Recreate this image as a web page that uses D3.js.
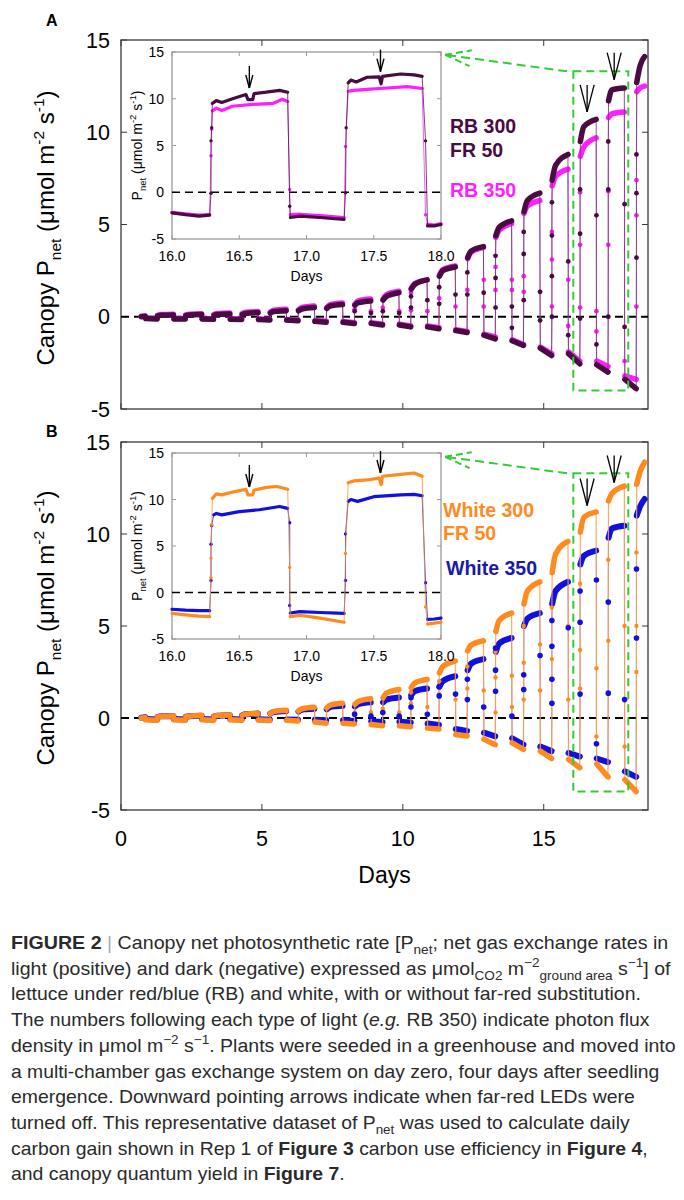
<!DOCTYPE html>
<html><head><meta charset="utf-8">
<script src="https://cdn.jsdelivr.net/npm/d3@7"></script>
<style>body{margin:0;background:#fff}svg{display:block}</style>
</head><body>
<svg id="c" width="684" height="1200"></svg>
<script>
// ---------------- DATA ----------------
const dayIdx = [0,1,2,3,4,5,6,7,8,9,10,11,12,13,14,15,16,17,18];
const lightOn = 0.29, lightOff = 0.87, firstSample = 0.72, lastSample = 18.58;
const yTicks = [-5, 0, 5, 10, 15];
const xTicks = [0, 5, 10, 15];
const insetXTicks = [16.0, 16.5, 17.0, 17.5, 18.0];

// Panel A: RB 300 + FR 50
const rb300LightStart = [0.0,0.05,0.06,0.08,0.12,0.2,0.32,0.45,0.62,0.9,1.5,2.2,3.2,4.4,5.7,7.4,9.5,11.7,12.7];
const rb300LightKnee  = [0.01,0.08,0.1,0.12,0.18,0.28,0.42,0.58,0.76,1.1,1.75,2.5,3.55,4.85,6.3,8.2,10.3,12.3,13.6];
const rb300LightEnd   = [0.02,0.1,0.12,0.15,0.22,0.33,0.5,0.66,0.86,1.3,2.0,2.7,3.8,5.2,6.7,8.8,10.7,12.4,14.1];
const rb300DarkStart  = [-0.1,-0.12,-0.12,-0.14,-0.15,-0.18,-0.25,-0.3,-0.36,-0.45,-0.55,-0.75,-1.0,-1.3,-1.7,-2.0,-2.6,-3.4];
const rb300DarkEnd    = [-0.12,-0.12,-0.14,-0.15,-0.17,-0.22,-0.3,-0.37,-0.45,-0.55,-0.65,-0.85,-1.2,-1.55,-2.1,-2.55,-3.0,-3.9];
const rb300Rise = [[],[],[],[],[],[],[],[],[0.3],[0.3],[0.5,1.1],[0.7,1.6],[1.2,2.4],[0.5,2.1,3.3],[0.9,3.4,4.6],[0.0,2.2,4.4,6.2],[-0.1,4.5,6.9],[0.0,6.9,9.5],[3.2,6.7,8.8]];
const rb300Fall = [[],[],[],[],[],[],[],[],[0.2],[0.2],[0.9],[1.2],[1.3],[0.55,-0.6],[1.35,-0.2],[3.0,-1.0],[5.5,-1.5],[6.1,-0.55]];

// Panel A: RB 350
const rb350LightStart = [0.03,0.08,0.1,0.12,0.18,0.25,0.38,0.5,0.68,0.95,1.55,2.25,3.15,4.3,5.6,7.1,8.7,10.8,12.2];
const rb350LightKnee  = [0.04,0.12,0.14,0.17,0.24,0.35,0.5,0.66,0.86,1.2,1.8,2.55,3.5,4.7,6.0,7.6,9.2,11.0,12.4];
const rb350LightEnd   = [0.05,0.14,0.16,0.2,0.28,0.4,0.58,0.75,0.96,1.38,2.0,2.75,3.75,5.05,6.3,8.0,9.7,11.1,12.5];
const rb350DarkStart  = [-0.08,-0.1,-0.1,-0.12,-0.12,-0.15,-0.2,-0.26,-0.32,-0.4,-0.5,-0.7,-0.95,-1.25,-1.65,-1.9,-2.4,-3.2];
const rb350DarkEnd    = [-0.1,-0.1,-0.12,-0.12,-0.15,-0.18,-0.25,-0.32,-0.4,-0.5,-0.6,-0.8,-1.1,-1.5,-2.0,-2.4,-2.7,-3.4];
const rb350Rise = [[],[],[],[],[],[],[],[],[0.4],[0.5],[0.35,1.3],[1.0],[1.45],[1.45,2.7],[1.35,2.2],[0.55,3.1,4.6],[0.5,3.9,6.75],[3.9,6.8],[0.55,5.5,7.4]];
const rb350Fall = [[],[],[],[],[],[],[],[],[0.3],[0.3],[0.3],[0.55],[2.0,0.55],[2.0,1.45],[1.35],[2.0,-0.5],[0.3,-0.8],[-2.4]];

// Panel B: White 300 + FR 50
const w300LightStart = [0.0,0.06,0.07,0.09,0.15,0.25,0.38,0.55,0.75,1.1,1.65,2.45,3.65,4.7,6.2,7.9,10.1,11.8,12.7];
const w300LightKnee  = [0.01,0.09,0.1,0.13,0.2,0.35,0.5,0.7,0.9,1.35,1.9,2.8,3.95,5.3,6.9,8.9,10.9,12.2,13.4];
const w300LightEnd   = [0.02,0.11,0.13,0.16,0.25,0.42,0.58,0.8,1.05,1.55,2.1,3.1,4.2,5.7,7.4,9.6,11.2,12.6,13.9];
const w300DarkStart  = [-0.1,-0.1,-0.1,-0.1,-0.11,-0.12,-0.22,-0.28,-0.35,-0.42,-0.55,-0.9,-1.15,-1.35,-1.8,-2.25,-2.5,-3.35];
const w300DarkEnd    = [-0.12,-0.12,-0.12,-0.12,-0.13,-0.16,-0.28,-0.32,-0.42,-0.48,-0.6,-0.98,-1.45,-1.7,-2.2,-2.7,-3.2,-4.0];
const w300Rise = [[],[],[],[],[],[],[],[],[0.3],[0.5],[0.8,1.4],[1.3,2.0],[1.6,2.8],[0.3,2.2,3.6],[1.0,3.0,5.0],[0.8,3.2,6.0],[1.6,3.7,7.3],[4.2,8.6],[2.5,5.0,9.0]];
const w300Fall = [[],[],[],[],[],[],[],[],[0.3],[0.3],[0.6],[1.0],[1.5],[2.3,0.6],[4.0,1.5],[5.0,1.0],[2.7,-1.0],[5.0,-1.55]];

// Panel B: White 350
const w350LightStart = [0.02,0.06,0.07,0.09,0.15,0.24,0.35,0.48,0.62,0.85,1.25,1.7,2.6,3.6,5.0,6.2,8.35,9.8,11.0];
const w350LightKnee  = [0.03,0.09,0.1,0.12,0.2,0.32,0.45,0.6,0.75,1.0,1.45,2.0,2.95,4.05,5.4,6.9,8.8,10.3,11.5];
const w350LightEnd   = [0.04,0.1,0.12,0.15,0.24,0.38,0.5,0.66,0.85,1.12,1.6,2.27,3.2,4.35,5.7,7.4,9.1,10.45,11.9];
const w350DarkStart  = [-0.06,-0.06,-0.06,-0.06,-0.07,-0.08,-0.1,-0.12,-0.18,-0.2,-0.3,-0.6,-0.8,-1.1,-1.55,-1.9,-2.2,-2.9];
const w350DarkEnd    = [-0.08,-0.08,-0.08,-0.08,-0.09,-0.1,-0.12,-0.16,-0.22,-0.25,-0.38,-0.7,-1.0,-1.45,-1.8,-2.1,-2.4,-3.2];
const w350Rise = [[],[],[],[],[],[],[],[],[0.2],[0.3],[0.6,1.1],[1.2,1.7],[1.0,2.1],[1.45,2.6,3.8],[1.55,2.35],[0.8,2.1,3.9,5.3],[1.3,5.2,6.9],[1.35,6.3],[4.35,8.1]];
const w350Fall = [[],[],[],[],[],[],[],[],[0.1],[0.1],[0.2],[1.3],[0.6],[0.1],[3.4],[4.9],[7.5,-1.4],[1.0]];

// Insets (days 16-18): plateaus [day, value] and transition samples
const inRb300Plateaus = [
  [[16.0,-2.2],[16.1,-2.4],[16.2,-2.55],[16.28,-2.45]],
  [[16.30,9.5],[16.33,9.8],[16.37,9.6],[16.45,10.0],[16.55,10.45],[16.565,9.9],[16.6,9.9],[16.61,10.55],[16.7,10.7],[16.8,10.9],[16.86,10.7]],
  [[16.88,-2.7],[16.95,-2.55],[17.1,-2.7],[17.28,-2.9]],
  [[17.31,11.7],[17.33,12.0],[17.37,11.8],[17.45,12.3],[17.54,12.35],[17.555,11.6],[17.565,12.4],[17.7,12.65],[17.8,12.55],[17.86,12.4]],
  [[17.9,-3.6],[17.95,-3.6],[18.0,-3.45]]
];
const inRb300Steps = [[[16.29,-0.1],[16.29,5.5],[16.295,6.9]], [[16.875,-1.5]], [[17.29,-0.05],[17.295,6.9]], [[17.885,5.5]]];
const inRb350Plateaus = [
  [[16.0,-2.15],[16.1,-2.3],[16.2,-2.45],[16.28,-2.4]],
  [[16.30,8.7],[16.33,9.0],[16.37,8.75],[16.45,9.2],[16.6,9.4],[16.75,9.5],[16.82,9.95],[16.86,9.7]],
  [[16.88,-2.4],[16.95,-2.35],[17.1,-2.5],[17.28,-2.7]],
  [[17.31,10.8],[17.35,10.9],[17.45,11.0],[17.6,11.15],[17.75,11.3],[17.86,11.1]],
  [[17.9,-3.4],[17.95,-3.5],[18.0,-3.35]]
];
const inRb350Steps = [[[16.29,3.9],[16.295,6.75]], [[16.875,0.3]], [[17.29,4.9]], [[17.885,-2.4]]];
const inW300Plateaus = [
  [[16.0,-2.25],[16.1,-2.4],[16.2,-2.55],[16.28,-2.6]],
  [[16.30,10.1],[16.33,10.6],[16.37,10.5],[16.45,10.8],[16.55,11.1],[16.565,10.5],[16.6,10.5],[16.61,11.0],[16.7,11.3],[16.78,11.4],[16.86,11.1]],
  [[16.88,-2.6],[16.95,-2.45],[17.1,-2.75],[17.28,-3.2]],
  [[17.31,11.8],[17.35,12.0],[17.45,12.1],[17.54,12.3],[17.555,11.6],[17.565,12.5],[17.7,12.7],[17.8,12.85],[17.86,12.5]],
  [[17.9,-3.4],[17.95,-3.3],[18.0,-3.2]]
];
const inW300Steps = [[[16.29,1.6],[16.29,3.7],[16.295,7.3]], [[16.875,2.7]], [[17.29,4.2]], [[17.885,-1.55]]];
const inW350Plateaus = [
  [[16.0,-1.8],[16.1,-1.9],[16.2,-1.95],[16.28,-1.95]],
  [[16.31,8.35],[16.33,8.5],[16.37,8.35],[16.5,8.7],[16.65,8.9],[16.8,9.25],[16.86,9.05]],
  [[16.88,-2.2],[16.95,-2.05],[17.1,-2.15],[17.28,-2.25]],
  [[17.31,9.8],[17.33,10.0],[17.38,9.8],[17.5,10.3],[17.7,10.5],[17.8,10.55],[17.86,10.4]],
  [[17.9,-2.9],[17.95,-2.85],[18.0,-2.75]]
];
const inW350Steps = [[[16.29,1.3],[16.29,5.2],[16.295,7.2]], [[16.875,7.5],[16.875,-1.4]], [[17.29,1.3],[17.29,6.3]], [[17.885,1.05]]];

// FR-off arrows (day, tip value)
const mainArrowDays = [16.54, 17.5];
const mainArrowTipsA = [11.1, 12.85];
const mainArrowTipsB = [11.55, 12.8];
const insetArrowDays = [16.575, 17.55];
const insetArrowTipsA = [11.15, 12.9];
const insetArrowTipsB = [11.35, 12.85];
// zoom box + pointer (data units)
const zoomBox = [16.05, 18.0, -4.0, 13.3];
const pointerFrom = [15.83, 13.3], pointerTo = [11.5, 14.2];

// ---------------- DRAW ----------------
const FONT = "'Liberation Sans', Arial, Helvetica, sans-serif";
const svg = d3.select('#c').attr('font-family', FONT);
svg.append('rect').attr('width', 684).attr('height', 1200).attr('fill', '#fff');

const x = d3.scaleLinear().domain([0, 18.7]).range([121, 648]);
const yA = d3.scaleLinear().domain([-5, 15]).range([409, 40]);
const yB = d3.scaleLinear().domain([-5, 15]).range([810, 442]);
const xi = d3.scaleLinear().domain([16, 18]).range([172, 441]);
const yiA = d3.scaleLinear().domain([-5, 15]).range([239, 52]);
const yiB = d3.scaleLinear().domain([-5, 15]).range([639, 453]);

const C = {purple: '#4a0a42', magenta: '#ff1eff', orange: '#ff8a1e', blue: '#1010e0', blueText: '#1a1aa8', green: '#33cc33'};

function rich(sel, segs, size, small) {
  let shift = 0;
  segs.forEach(([t, k]) => {
    let target = 0, fs = size;
    if (k === 'sub') { target = size * 0.3; fs = small; }
    if (k === 'sup') { target = -size * 0.42; fs = small; }
    const ts = sel.append('tspan').attr('dy', (target - shift).toFixed(2)).attr('font-size', fs).text(t);
    if (k === 'b') ts.attr('font-weight', 'bold');
    if (k === 'i') ts.attr('font-style', 'italic');
    if (k === 'g') ts.attr('fill', '#aaa');
    shift = target;
  });
}

function frame(g, xs, ys, color, tickLen, xt) {
  const [x0, x1] = xs.range(), [y0, y1] = ys.range();
  g.append('rect').attr('x', x0).attr('y', y1).attr('width', x1 - x0).attr('height', y0 - y1)
    .attr('fill', '#fff').attr('stroke', color).attr('stroke-width', 1.3);
  yTicks.forEach(t => {
    g.append('line').attr('x1', x0).attr('x2', x0 + tickLen).attr('y1', ys(t)).attr('y2', ys(t)).attr('stroke', color);
    g.append('line').attr('x1', x1).attr('x2', x1 - tickLen).attr('y1', ys(t)).attr('y2', ys(t)).attr('stroke', color);
  });
  xt.forEach(t => {
    g.append('line').attr('x1', xs(t)).attr('x2', xs(t)).attr('y1', y0).attr('y2', y0 - tickLen).attr('stroke', color);
    g.append('line').attr('x1', xs(t)).attr('x2', xs(t)).attr('y1', y1).attr('y2', y1 + tickLen).attr('stroke', color);
  });
}

function buildMain(ls, lk, le, ds, de, rise, fall) {
  const plateaus = [], dots = [], path = [];
  dayIdx.forEach((d, i) => {
    if (i > 0) rise[i].forEach(v => { dots.push([d + lightOn, v]); path.push([d + lightOn, v]); });
    const light = i === 0
      ? [[firstSample, ls[i]], [d + lightOff - 0.01, le[i]]]
      : [[d + lightOn + 0.01, ls[i]], [d + lightOn + 0.13, lk[i]],
         [i === dayIdx.length - 1 ? lastSample : d + lightOff - 0.01, le[i]]];
    plateaus.push(light); path.push(...light);
    if (i < ds.length) {
      fall[i].forEach(v => { dots.push([d + lightOff, v]); path.push([d + lightOff, v]); });
      const dark = [[d + lightOff + 0.01, ds[i]], [d + 1 + lightOn - 0.01, de[i]]];
      plateaus.push(dark); path.push(...dark);
    }
  });
  return {plateaus, dots, path};
}

function drawLineLayer(g, xs, ys, path, color, w, op) {
  g.append('path').attr('d', d3.line().x(p => xs(p[0])).y(p => ys(p[1]))(path))
    .attr('fill', 'none').attr('stroke', color).attr('stroke-width', w).attr('stroke-opacity', op);
}
function drawBands(g, xs, ys, plateaus, color, w, curve) {
  const ln = d3.line().x(p => xs(p[0])).y(p => ys(p[1])).curve(curve);
  g.selectAll(null).data(plateaus).join('path').attr('d', ln)
    .attr('fill', 'none').attr('stroke', color).attr('stroke-width', w)
    .attr('stroke-linecap', 'round').attr('stroke-linejoin', 'round');
}
function drawDots(g, xs, ys, dots, color, r) {
  g.selectAll(null).data(dots).join('circle').attr('cx', p => xs(p[0])).attr('cy', p => ys(p[1]))
    .attr('r', r).attr('fill', color);
}

function mainPanel(ys, label, labelY, titleY, showX) {
  const g = svg.append('g');
  frame(g, x, ys, '#3a3a3a', 6, xTicks);
  yTicks.forEach(t => g.append('text').attr('x', 110).attr('y', ys(t)).attr('dy', '0.36em')
    .attr('text-anchor', 'end').attr('font-size', 21.5).text(t));
  const tt = g.append('text').attr('transform', `translate(54,${titleY}) rotate(-90)`)
    .attr('text-anchor', 'middle').attr('font-size', 24);
  rich(tt, [['Canopy P', 'n'], ['net', 'sub'], [' (μmol m', 'n'], ['-2', 'sup'], [' s', 'n'], ['-1', 'sup'], [')', 'n']], 24, 15.5);
  g.append('text').attr('x', 46).attr('y', labelY).attr('font-size', 16).attr('font-weight', 'bold').text(label);
  if (showX) {
    xTicks.forEach(t => g.append('text').attr('x', x(t)).attr('y', ys.range()[0] + 36)
      .attr('text-anchor', 'middle').attr('font-size', 21.5).text(t));
    g.append('text').attr('x', (x.range()[0] + x.range()[1]) / 2).attr('y', ys.range()[0] + 73)
      .attr('text-anchor', 'middle').attr('font-size', 23).text('Days');
  }
  return g;
}

function zeroLine(g, xs, ys, w) {
  g.append('line').attr('x1', xs.range()[0]).attr('x2', xs.range()[1]).attr('y1', ys(0)).attr('y2', ys(0))
    .attr('stroke', '#000').attr('stroke-width', w).attr('stroke-dasharray', '8,5');
}

function arrow(g, px, py, shaft, headLen, headHalf, w) {
  g.append('line').attr('x1', px).attr('x2', px).attr('y1', py - shaft).attr('y2', py).attr('stroke', '#000').attr('stroke-width', w);
  [-1, 1].forEach(s => g.append('line').attr('x1', px + s * headHalf).attr('y1', py - headLen)
    .attr('x2', px).attr('y2', py).attr('stroke', '#000').attr('stroke-width', w));
}

function zoomAnnot(g, ys) {
  g.append('rect').attr('x', x(zoomBox[0])).attr('y', ys(zoomBox[3]))
    .attr('width', x(zoomBox[1]) - x(zoomBox[0])).attr('height', ys(zoomBox[2]) - ys(zoomBox[3]))
    .attr('fill', 'none').attr('stroke', C.green).attr('stroke-width', 2).attr('stroke-dasharray', '8,5');
  const fx = x(pointerFrom[0]), fy = ys(pointerFrom[1]), tx = x(pointerTo[0]), ty = ys(pointerTo[1]);
  g.append('line').attr('x1', fx).attr('y1', fy).attr('x2', tx).attr('y2', ty)
    .attr('stroke', C.green).attr('stroke-width', 2).attr('stroke-dasharray', '9,5');
  const ang = Math.atan2(fy - ty, fx - tx);
  [-0.3, 0.3].forEach(da => g.append('line').attr('x1', tx).attr('y1', ty)
    .attr('x2', tx + 27 * Math.cos(ang + da)).attr('y2', ty + 27 * Math.sin(ang + da))
    .attr('stroke', C.green).attr('stroke-width', 2).attr('stroke-dasharray', '7,4'));
}

function insetPanel(ys, series, arrowTips) {
  const g = svg.append('g');
  frame(g, xi, ys, '#9a9a9a', 4, insetXTicks);
  yTicks.forEach(t => g.append('text').attr('x', 164).attr('y', ys(t)).attr('dy', '0.36em')
    .attr('text-anchor', 'end').attr('font-size', 14).text(t));
  insetXTicks.forEach(t => g.append('text').attr('x', xi(t)).attr('y', ys.range()[0] + 22)
    .attr('text-anchor', 'middle').attr('font-size', 14).text(t.toFixed(1)));
  g.append('text').attr('x', (xi.range()[0] + xi.range()[1]) / 2).attr('y', ys.range()[0] + 42)
    .attr('text-anchor', 'middle').attr('font-size', 14).text('Days');
  const mid = (ys.range()[0] + ys.range()[1]) / 2;
  const tt = g.append('text').attr('transform', `translate(142,${mid}) rotate(-90)`)
    .attr('text-anchor', 'middle').attr('font-size', 14);
  rich(tt, [['P', 'n'], ['net', 'sub'], [' (μmol m', 'n'], ['-2', 'sup'], [' s', 'n'], ['-1', 'sup'], [')', 'n']], 14, 9.5);
  zeroLine(g, xi, ys, 1.6);
  series.forEach(s => {
    const path = [];
    s.plateaus.forEach((p, i) => { path.push(...p); if (s.steps[i]) path.push(...s.steps[i]); });
    drawLineLayer(g, xi, ys, path, s.color, 1, 0.75);
    drawBands(g, xi, ys, s.plateaus, s.color, 3.2, d3.curveLinear);
    drawDots(g, xi, ys, s.steps.flat(), s.color, 1.7);
  });
  insetArrowDays.forEach((d, i) => arrow(g, xi(d), ys(arrowTips[i]), 22, 13, 3.5, 1.4));
  return g;
}

// ---- Panel A ----
const gA = mainPanel(yA, 'A', 26, 228, false);
zeroLine(gA, x, yA, 2);
const mA350 = buildMain(rb350LightStart, rb350LightKnee, rb350LightEnd, rb350DarkStart, rb350DarkEnd, rb350Rise, rb350Fall);
const mA300 = buildMain(rb300LightStart, rb300LightKnee, rb300LightEnd, rb300DarkStart, rb300DarkEnd, rb300Rise, rb300Fall);
drawLineLayer(gA, x, yA, mA350.path, '#d040d0', 1, 0.8);
drawBands(gA, x, yA, mA350.plateaus, C.magenta, 5.5, d3.curveMonotoneX);
drawDots(gA, x, yA, mA350.dots, C.magenta, 2.4);
drawLineLayer(gA, x, yA, mA300.path, '#7a3a72', 1, 0.85);
drawBands(gA, x, yA, mA300.plateaus, C.purple, 5.5, d3.curveMonotoneX);
drawDots(gA, x, yA, mA300.dots, C.purple, 2.4);
zoomAnnot(gA, yA);
mainArrowDays.forEach((d, i) => arrow(gA, x(d), yA(mainArrowTipsA[i]), 27, 27, 7, 1.3));
insetPanel(yiA, [
  {plateaus: inRb350Plateaus, steps: inRb350Steps, color: C.magenta},
  {plateaus: inRb300Plateaus, steps: inRb300Steps, color: C.purple}
], insetArrowTipsA);
gA.append('text').attr('x', 450).attr('y', 133).attr('font-size', 19.5).attr('font-weight', 'bold').attr('fill', C.purple).text('RB 300');
gA.append('text').attr('x', 450).attr('y', 157).attr('font-size', 19.5).attr('font-weight', 'bold').attr('fill', C.purple).text('FR 50');
gA.append('text').attr('x', 450).attr('y', 197).attr('font-size', 19.5).attr('font-weight', 'bold').attr('fill', C.magenta).text('RB 350');

// ---- Panel B ----
const gB = mainPanel(yB, 'B', 437, 628, true);
zeroLine(gB, x, yB, 2);
const mB350 = buildMain(w350LightStart, w350LightKnee, w350LightEnd, w350DarkStart, w350DarkEnd, w350Rise, w350Fall);
const mB300 = buildMain(w300LightStart, w300LightKnee, w300LightEnd, w300DarkStart, w300DarkEnd, w300Rise, w300Fall);
drawLineLayer(gB, x, yB, mB350.path, '#4040e0', 1, 0.6);
drawBands(gB, x, yB, mB350.plateaus, C.blue, 6, d3.curveMonotoneX);
drawLineLayer(gB, x, yB, mB300.path, '#ffa04a', 1.2, 0.9);
drawBands(gB, x, yB, mB300.plateaus, C.orange, 5.5, d3.curveMonotoneX);
drawDots(gB, x, yB, mB300.dots, C.orange, 2.2);
drawDots(gB, x, yB, mB350.dots, C.blue, 2.8);
zoomAnnot(gB, yB);
mainArrowDays.forEach((d, i) => arrow(gB, x(d), yB(mainArrowTipsB[i]), 27, 27, 7, 1.3));
insetPanel(yiB, [
  {plateaus: inW350Plateaus, steps: inW350Steps, color: C.blue},
  {plateaus: inW300Plateaus, steps: inW300Steps, color: C.orange}
], insetArrowTipsB);
gB.append('text').attr('x', 443).attr('y', 517).attr('font-size', 19.5).attr('font-weight', 'bold').attr('fill', C.orange).text('White 300');
gB.append('text').attr('x', 443).attr('y', 540).attr('font-size', 19.5).attr('font-weight', 'bold').attr('fill', C.orange).text('FR 50');
gB.append('text').attr('x', 446).attr('y', 575).attr('font-size', 19.5).attr('font-weight', 'bold').attr('fill', C.blueText).text('White 350');

// ---- Caption ----
const captionLines = [
  [['FIGURE 2', 'b'], [' | ', 'g'], ['Canopy net photosynthetic rate [P', 'n'], ['net', 'sub'], ['; net gas exchange rates in', 'n']],
  [['light (positive) and dark (negative) expressed as μmol', 'n'], ['CO2', 'sub'], [' m', 'n'], ['−2', 'sup'], ['ground area', 'sub'], [' s', 'n'], ['−1', 'sup'], ['] of', 'n']],
  [['lettuce under red/blue (RB) and white, with or without far-red substitution.', 'n']],
  [['The numbers following each type of light (', 'n'], ['e.g.', 'i'], [' RB 350) indicate photon flux', 'n']],
  [['density in μmol m', 'n'], ['−2', 'sup'], [' s', 'n'], ['−1', 'sup'], ['. Plants were seeded in a greenhouse and moved into', 'n']],
  [['a multi-chamber gas exchange system on day zero, four days after seedling', 'n']],
  [['emergence. Downward pointing arrows indicate when far-red LEDs were', 'n']],
  [['turned off. This representative dataset of P', 'n'], ['net', 'sub'], [' was used to calculate daily', 'n']],
  [['carbon gain shown in Rep 1 of ', 'n'], ['Figure 3', 'b'], [' carbon use efficiency in ', 'n'], ['Figure 4', 'b'], [',', 'n']],
  [['and canopy quantum yield in ', 'n'], ['Figure 7', 'b'], ['.', 'n']]
];
const captionWidths = [658, 660, 630, 639, 665, 649, 624, 619, 637, 334];
const cap = svg.append('g').attr('fill', '#2a2a2a');
captionLines.forEach((segs, i) => {
  const t = cap.append('text').attr('font-size', 18);
  rich(t, segs, 18, 12.5);
  const w = t.node().getComputedTextLength();
  t.attr('transform', `translate(11,${949 + i * 25.7}) scale(${captionWidths[i] / w},1)`);
});
</script>
</body></html>
